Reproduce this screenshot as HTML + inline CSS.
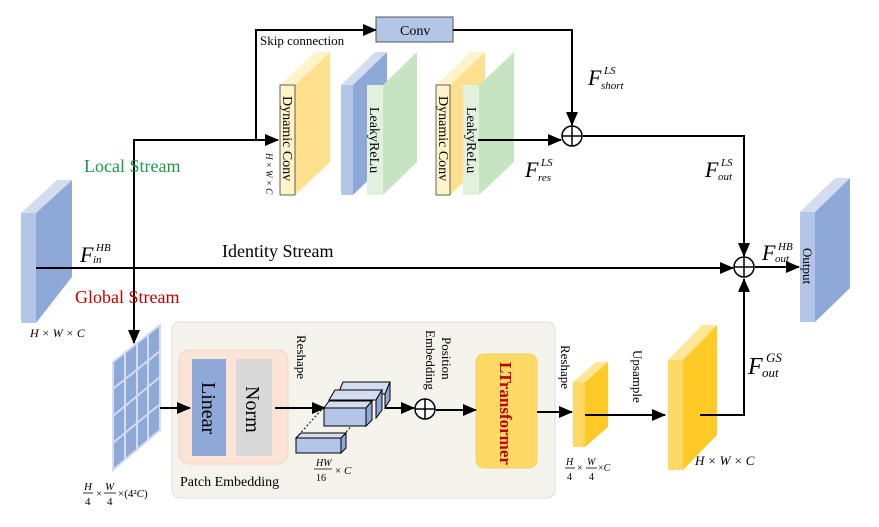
<!DOCTYPE html>
<html><head><style>body{margin:0;background:#fff}svg{display:block}text{font-family:"Liberation Serif",serif}</style></head>
<body>
<svg width="879" height="527" viewBox="0 0 879 527" xmlns="http://www.w3.org/2000/svg">
<defs><marker id="a" markerWidth="10" markerHeight="10" refX="9" refY="5" orient="auto" markerUnits="userSpaceOnUse"><path d="M0,0 L10,5 L0,10z" fill="#000"/></marker>
<marker id="b" markerWidth="14" markerHeight="12" refX="13" refY="6" orient="auto" markerUnits="userSpaceOnUse"><path d="M0,0 L14,6 L0,12z" fill="#000"/></marker></defs>
<!-- input -->
<polygon points="36,213 72,180 72,277 36,323" fill="#8ea8d8"/>
<polygon points="21,213 36,213 72,180 57,180" fill="#d4dcf0"/>
<rect x="21" y="213" width="15" height="110" fill="#b4c6e7"/>
<text x="30" y="337" font-size="12" font-style="italic">H × W × C</text>
<!-- output -->
<polygon points="815,212 850,178 850,288 815,322" fill="#8ea8d8"/>
<polygon points="800,212 815,212 850,178 835,178" fill="#d4dcf0"/>
<rect x="800" y="212" width="15" height="110" fill="#b4c6e7"/>
<text transform="translate(803,248) rotate(90)" font-size="13">Output</text>
<!-- panel -->
<rect x="172" y="322" width="383" height="176" rx="8" fill="#f4f4ec" stroke="#ddd"/>
<rect x="179" y="350" width="109" height="114" rx="10" fill="#fbe4d5" stroke="#f0d4c4"/>
<rect x="192" y="359" width="34" height="97" fill="#8ea8d8"/>
<rect x="236" y="359" width="36" height="97" fill="#d9d9d9"/>
<text transform="translate(202,382) rotate(90)" font-size="20">Linear</text>
<text transform="translate(246,386) rotate(90)" font-size="20">Norm</text>
<text x="180" y="486" font-size="14">Patch Embedding</text>
<text transform="translate(297,335) rotate(90)" font-size="13">Reshape</text>
<text transform="translate(442,337) rotate(90)" font-size="13">Position</text>
<text transform="translate(426,330) rotate(90)" font-size="13">Embedding</text>
<rect x="476" y="354" width="61" height="114" rx="8" fill="#ffd966" stroke="#f5d060"/>
<text transform="translate(500,362) rotate(90)" font-size="17" font-weight="bold" fill="#c00000">LTransformer</text>
<!-- grid block -->
<g stroke="#d4dcf0" stroke-width="2">
<polygon points="113,362 160,325 160,430 113,470" fill="#8ea8d8"/>
<line x1="113" y1="389" x2="160" y2="351"/><line x1="113" y1="416" x2="160" y2="377"/><line x1="113" y1="443" x2="160" y2="404"/>
<line x1="125" y1="353" x2="125" y2="460"/><line x1="137" y1="343" x2="137" y2="451"/><line x1="148" y1="334" x2="148" y2="441"/>
</g>
<text x="84" y="490" font-size="11" font-style="italic">H</text><line x1="83" y1="493" x2="93" y2="493" stroke="#000" stroke-width=".8"/><text x="85" y="505" font-size="11">4</text>
<text x="96" y="497" font-size="11">×</text>
<text x="105" y="490" font-size="11" font-style="italic">W</text><line x1="104" y1="493" x2="116" y2="493" stroke="#000" stroke-width=".8"/><text x="107" y="505" font-size="11">4</text>
<text x="118" y="497" font-size="11">×(4²<tspan font-style="italic">C</tspan>)</text>
<!-- reshape bars -->
<g stroke="#000" stroke-width="1" fill="#b4c6e7">
<line x1="296" y1="438" x2="324" y2="407" stroke-dasharray="2,2"/><line x1="341" y1="438" x2="366" y2="409" stroke-dasharray="2,2"/>
<polygon points="343,382 390,382 385,394 338,394" fill="#d4dcf0"/><polygon points="385,394 390,382 390,400 385,408" fill="#8ea8d8"/>
<polygon points="335,390 382,390 376,400 329,400" fill="#d4dcf0"/><polygon points="376,400 382,390 382,410 376,418" fill="#8ea8d8"/>
<polygon points="329,401 372,401 366,408 324,408" fill="#d4dcf0"/><rect x="324" y="408" width="42" height="18"/><polygon points="366,408 372,401 372,420 366,426" fill="#8ea8d8"/>
<polygon points="301,433 346,433 341,438 296,438" fill="#d4dcf0"/><rect x="296" y="438" width="45" height="15"/><polygon points="341,438 346,433 346,448 341,453" fill="#8ea8d8"/>
</g>
<text x="316" y="466" font-size="10" font-style="italic">HW</text><line x1="314" y1="469" x2="332" y2="469" stroke="#000" stroke-width=".8"/><text x="316" y="481" font-size="10">16</text><text x="335" y="474" font-size="11">× <tspan font-style="italic">C</tspan></text>
<!-- small yellow -->
<polygon points="585,382 608,362 608,427 585,447" fill="#ffc926"/>
<polygon points="573,382 585,382 608,362 596,362" fill="#ffe699"/>
<rect x="573" y="382" width="12" height="65" fill="#ffd966"/>
<text transform="translate(561,345) rotate(90)" font-size="13">Reshape</text>
<text transform="translate(633,350) rotate(90)" font-size="13">Upsample</text>
<text x="566" y="465" font-size="10" font-style="italic">H</text><line x1="565" y1="468" x2="575" y2="468" stroke="#000" stroke-width=".8"/><text x="567" y="480" font-size="10">4</text>
<text x="577" y="471" font-size="10">×</text><text x="587" y="465" font-size="10" font-style="italic">W</text><line x1="586" y1="468" x2="597" y2="468" stroke="#000" stroke-width=".8"/><text x="589" y="480" font-size="10">4</text><text x="598" y="471" font-size="10">×<tspan font-style="italic">C</tspan></text>
<!-- big yellow -->
<polygon points="683,360 717,325 717,435 683,470" fill="#ffc926"/>
<polygon points="668,360 683,360 717,325 702,325" fill="#ffe699"/>
<rect x="668" y="360" width="15" height="110" fill="#ffd966"/>
<text x="695" y="465" font-size="13" font-style="italic">H × W × C</text>
<!-- local blocks -->
<polygon points="295,85 330,52 330,162 295,195" fill="#ffe08f"/>
<polygon points="280,85 295,85 330,52 315,52" fill="#fff3cc"/>
<rect x="280" y="85" width="15" height="110" fill="#fff3cc" stroke="#000" stroke-width=".6"/>
<polygon points="353,85 387,52 387,162 353,195" fill="#8ea8d8"/>
<polygon points="341,85 353,85 387,52 375,52" fill="#d4dcf0"/>
<rect x="341" y="85" width="12" height="110" fill="#b4c6e7"/>
<polygon points="383,85 417,52 417,162 383,195" fill="#c6e3c2"/>
<rect x="367" y="85" width="16" height="110" fill="#e2f0de"/>
<polygon points="450,85 485,52 485,162 450,195" fill="#ffe08f"/>
<polygon points="436,85 450,85 485,52 471,52" fill="#fff3cc"/>
<rect x="436" y="85" width="14" height="110" fill="#fff3cc" stroke="#000" stroke-width=".6"/>
<polygon points="479,85 514,52 514,162 479,195" fill="#c6e3c2"/>
<rect x="463" y="85" width="16" height="110" fill="#e2f0de"/>
<text transform="translate(283,96) rotate(90)" font-size="14">Dynamic Conv</text>
<text transform="translate(370,107) rotate(90)" font-size="14">LeakyReLu</text>
<text transform="translate(439,96) rotate(90)" font-size="14">Dynamic Conv</text>
<text transform="translate(467,107) rotate(90)" font-size="14">LeakyReLu</text>
<text transform="translate(266,153) rotate(90)" font-size="9" font-style="italic">H × W × C</text>
<rect x="376" y="17" width="77" height="25" fill="#b4c6e7" stroke="#555"/>
<text x="400" y="35" font-size="14">Conv</text>
<text x="260" y="45" font-size="13">Skip connection</text>
<!-- lines -->
<g stroke="#000" stroke-width="2" fill="none">
<line x1="36" y1="268" x2="733" y2="268" marker-end="url(#b)"/>
<polyline points="134,340 134,140 278,140" marker-end="url(#b)"/>
<line x1="134" y1="300" x2="134" y2="343" marker-end="url(#b)"/>
<polyline points="256,140 256,30 376,30" marker-end="url(#b)"/>
<polyline points="453,30 572,30 572,125" marker-end="url(#b)"/>
<line x1="478" y1="140" x2="561" y2="140" marker-end="url(#b)"/>
<polyline points="583,136 744,136 744,256" marker-end="url(#b)"/>
<polyline points="700,415 744,415 744,279" marker-end="url(#b)"/>
<line x1="755" y1="267" x2="799" y2="267" marker-end="url(#b)"/>
<line x1="160" y1="408" x2="190" y2="408" marker-end="url(#b)"/>
<line x1="275" y1="408" x2="325" y2="408" marker-end="url(#b)"/>
<line x1="385" y1="408" x2="414" y2="408" marker-end="url(#b)"/>
<line x1="436" y1="410" x2="476" y2="410" marker-end="url(#b)"/>
<line x1="537" y1="412" x2="572" y2="412" marker-end="url(#b)"/>
<line x1="585" y1="415" x2="665" y2="415" marker-end="url(#b)"/>
</g>
<g stroke="#000" stroke-width="1.5" fill="#fff">
<circle cx="572" cy="136" r="10"/><path d="M562,136h20M572,126v20"/>
<circle cx="744" cy="267" r="10"/><path d="M734,267h20M744,257v20"/>
<circle cx="425" cy="409" r="10"/><path d="M415,409h20M425,399v20"/>
</g>
<!-- labels -->
<text x="84" y="172" font-size="18" fill="#1a9a4a">Local Stream</text>
<text x="75" y="303" font-size="18" fill="#c00000">Global Stream</text>
<text x="222" y="257" font-size="18">Identity Stream</text>
<text x="80" y="262" font-size="22" font-style="italic">F</text><text x="96" y="251" font-size="11" font-style="italic">HB</text><text x="93" y="263" font-size="11" font-style="italic">in</text>
<text x="588" y="85" font-size="22" font-style="italic">F</text><text x="604" y="74" font-size="11" font-style="italic">LS</text><text x="601" y="89" font-size="11" font-style="italic">short</text>
<text x="525" y="177" font-size="22" font-style="italic">F</text><text x="541" y="166" font-size="11" font-style="italic">LS</text><text x="538" y="181" font-size="11" font-style="italic">res</text>
<text x="705" y="177" font-size="22" font-style="italic">F</text><text x="721" y="166" font-size="11" font-style="italic">LS</text><text x="718" y="180" font-size="11" font-style="italic">out</text>
<text x="762" y="260" font-size="22" font-style="italic">F</text><text x="778" y="250" font-size="11" font-style="italic">HB</text><text x="775" y="262" font-size="11" font-style="italic">out</text>
<text x="748" y="374" font-size="24" font-style="italic">F</text><text x="766" y="362" font-size="13" font-style="italic">GS</text><text x="762" y="377" font-size="13" font-style="italic">out</text>
</svg>
</body></html>
